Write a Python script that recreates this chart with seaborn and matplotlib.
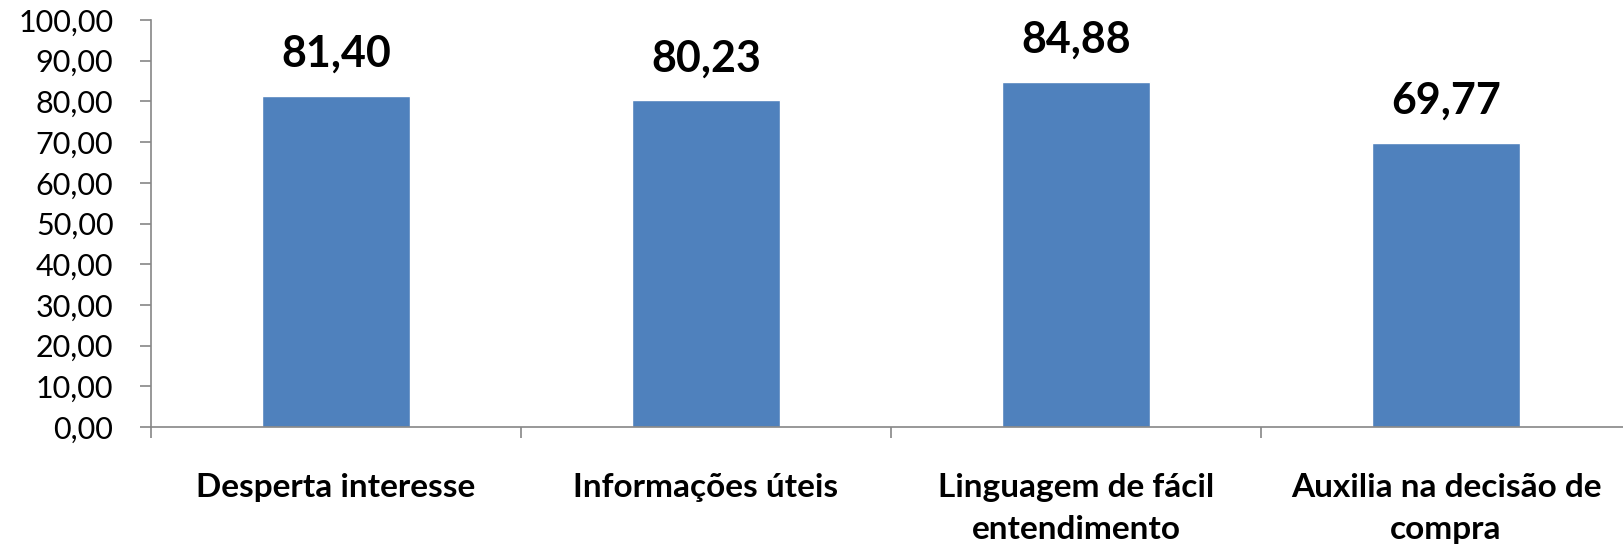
import numpy as np
import pandas as pd
import seaborn as sns
import matplotlib.pyplot as plt
from matplotlib.ticker import FuncFormatter, FixedLocator

# data
categories = ["Desperta interesse", "Informações úteis",
              "Linguagem de fácil\nentendimento", "Auxilia na decisão de\ncompra"]
values = [81.40, 80.23, 84.88, 69.77]

df = pd.DataFrame({"categoria": categories, "valor": values})

sns.set_style("white")
plt.rcParams["font.family"] = ["Lato", "DejaVu Sans"]
plt.rcParams["text.color"] = "black"

W, H = 1624, 550
fig = plt.figure(figsize=(W / 100, H / 100), dpi=100)
# axes extends a little past the right edge, as in the reference
ax = fig.add_axes([151 / W, (H - 427) / H, 1480 / W, 407 / H])

sns.barplot(data=df, x="categoria", y="valor", color="#4F81BD",
            saturation=1, width=0.4, ax=ax)

ax.set_xlim(-0.5, 3.5)
ax.set_ylim(0, 100)
ax.set_yticks(np.arange(0, 101, 10))
ax.yaxis.set_major_formatter(FuncFormatter(lambda v, p: f"{v:.2f}".replace(".", ",")))
ax.set_xlabel("")
ax.set_ylabel("")

# ticks at category boundaries, labels at centers
ax.xaxis.set_major_locator(FixedLocator(np.arange(-0.5, 4, 1)))
ax.set_xticklabels([""] * 5)
ax.xaxis.set_minor_locator(FixedLocator(np.arange(0, 4)))
ax.set_xticklabels(categories, minor=True, fontsize=24, fontweight="bold",
                   linespacing=1.55, va="top", color="black")
ax.tick_params(axis="x", which="minor", bottom=True, length=0, pad=33)
ax.tick_params(axis="x", which="major", bottom=True, length=8, width=1.2,
               color="#868686", direction="out")
ax.tick_params(axis="y", left=True, length=8, width=1.2, color="#868686",
               direction="out", labelsize=22, pad=19, labelcolor="black")

for side in ["top", "right"]:
    ax.spines[side].set_visible(False)
for side in ["left", "bottom"]:
    ax.spines[side].set_color("#868686")
    ax.spines[side].set_linewidth(1.2)

labels = [f"{v:.2f}".replace(".", ",") for v in values]
ax.bar_label(ax.containers[0], labels=labels, padding=16,
             fontsize=31, fontweight="bold", color="black")

fig.savefig("out.png", dpi=100)
